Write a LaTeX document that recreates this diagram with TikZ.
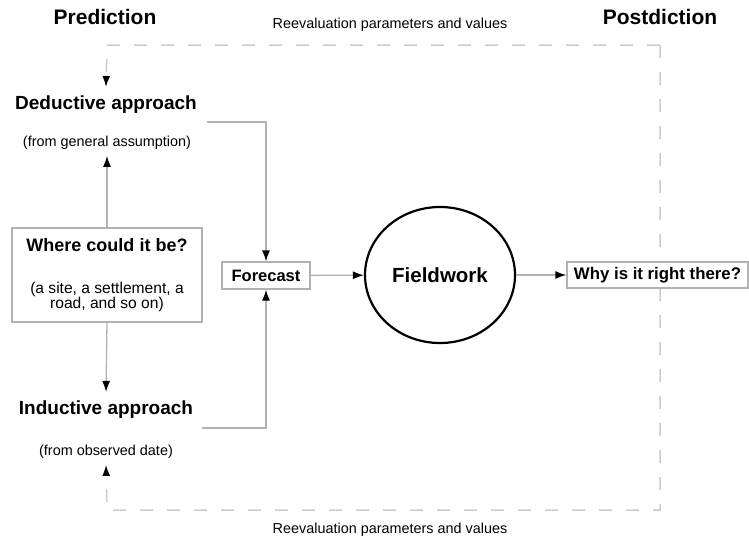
\documentclass[tikz,border=0pt]{standalone}
\usepackage{fontspec}
\setmainfont{Liberation Sans}
\usetikzlibrary{positioning}
\usetikzlibrary{shapes.geometric}
\usetikzlibrary{arrows.meta}
\definecolor{linegray}{gray}{0.70}
\definecolor{dashgray}{gray}{0.80}

\begin{document}
\begin{tikzpicture}[x=1pt, y=-1pt,
    conn/.style={draw=linegray, line width=1.3pt, -{Latex[length=11pt, width=8pt, color=black]}},
    loopline/.style={draw=dashgray, line width=1.5pt, dash pattern=on 13pt off 14pt},
    looptip/.style={-{Latex[length=11pt, width=8pt, color=black]}},
    side/.style={font=\fontsize{21}{24}\selectfont\bfseries},
    head/.style={font=\fontsize{19}{22}\selectfont\bfseries, inner sep=9pt},
    note/.style={font=\fontsize{14.4}{16}\selectfont, inner sep=6pt},
    boxed/.style={draw=linegray, line width=1.3pt, fill=white, inner sep=2pt}]
    %
    \useasboundingbox (0,0) rectangle (749,544);
    %
    \node[side] (pred) at (105,17) {Prediction};
    \node[side] (post) at (660,17) {Postdiction};
    \node[note] (revtop) at (390,25) {Reevaluation parameters and values};
    \node[note] (revbot) at (390,530) {Reevaluation parameters and values};
    %
    \node[head] (ded) at (106,105) {Deductive approach};
    \node[note] (dedsub) at (107,143) {(from general assumption)};
    \node[head] (ind) at (106,410) {Inductive approach};
    \node[note] (indsub) at (106,452) {(from observed date)};
    %
    \node[boxed, minimum width=190pt, minimum height=94pt, align=center,
          font=\fontsize{15.6}{15}\selectfont] (where) at (107,275)
        {{\fontsize{18}{20}\selectfont\bfseries Where could it be?}\\[27pt]
         (a site, a settlement, a\\
         road, and so on)};
    \node[boxed, minimum width=88pt, minimum height=27pt, font=\fontsize{16.5}{18}\selectfont\bfseries] (fore) at (266,275.5) {Forecast};
    \node[ellipse, draw=black, line width=2.2pt, minimum width=150pt, minimum height=136pt, font=\fontsize{20.5}{23}\selectfont\bfseries] (field) at (440,275) {Fieldwork};
    %
    \coordinate (lt) at (107,45);
    \coordinate (rt) at (660,45);
    \coordinate (rb) at (660,510);
    \coordinate (lb) at (107,510);
    \coordinate (dedout) at (207,122);
    \coordinate (indout) at (202,428);
    %
    % reevaluation loop
    \draw[loopline, looptip] (rt) -- (lt) -- (ded.north);
    \draw[loopline, looptip] (rt) -- (rb) -- (lb) -- (indsub.south);
    %
    \node[boxed, minimum width=181pt, minimum height=26pt, font=\fontsize{16.8}{18}\selectfont\bfseries] (why) at (657.5,275) {Why is it right there?};
    %
    \draw[conn] (where.north) -- (dedsub.south);
    \draw[conn] (where.south) -- (ind.north);
    \draw[conn] (dedout) -| (fore.north);
    \draw[conn] (indout) -| (fore.south);
    \draw[conn] (fore) -- (field);
    \draw[conn] (field) -- (why);
\end{tikzpicture}
\end{document}
